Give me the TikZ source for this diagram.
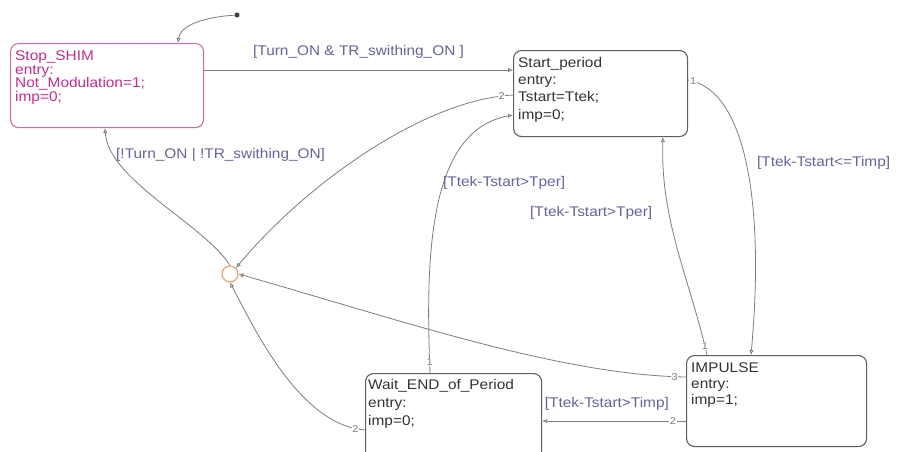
\documentclass[tikz,border=0pt]{standalone}
\usepackage{fontspec}
\setmainfont{Liberation Sans}[FakeStretch=1.1]
\usetikzlibrary{arrows.meta,calc}
\definecolor{ln}{RGB}{125,125,125}
\definecolor{lbl}{RGB}{100,100,160}
\definecolor{mag}{RGB}{195,45,140}
\definecolor{magb}{RGB}{205,110,165}
\definecolor{bx}{RGB}{95,95,95}
\definecolor{jn}{RGB}{235,150,90}
\begin{document}
\begin{tikzpicture}[x=1pt,y=-1pt,
  statebox/.style={draw=bx, line width=1.1pt, rounded corners=8pt, anchor=north west, inner sep=0pt},
  boxtext/.style={anchor=north west, align=left, inner sep=0pt, font=\fontsize{14}{17}\selectfont, text=black!80},
  tr/.style={draw=ln, line width=0.8pt, -{Latex[open,length=5pt,width=4.5pt]}},
  glabel/.style={text=lbl, font=\fontsize{14}{16}\selectfont, inner sep=0pt},
  prio/.style={fill=white, text=ln, font=\fontsize{10}{10}\selectfont, inner sep=0.6pt}]
\useasboundingbox (0,0) rectangle (897,451);
\fill[white] (0,0) rectangle (897,451);

% states
\node[statebox, draw=magb, minimum width=193pt, minimum height=84pt] (ss) at (10,43) {};
\node[boxtext, text=mag, font=\fontsize{14}{13.5}\selectfont] (sst) at (15,51) {Stop\_SHIM\\entry:\\Not\_Modulation=1;\\imp=0;};

\node[statebox, minimum width=174pt, minimum height=86pt] (sp) at (513,50) {};
\node[boxtext, font=\fontsize{14}{17.3}\selectfont] (spt) at (518,57) {Start\_period\\entry:\\Tstart=Ttek;\\imp=0;};

\node[statebox, minimum width=180pt, minimum height=91pt] (im) at (686,355) {};
\node[boxtext, font=\fontsize{14}{16}\selectfont] (imt) at (691,363) {IMPULSE\\entry:\\imp=1;};

\node[statebox, minimum width=176pt, minimum height=100pt] (we) at (365,373) {};
\node[boxtext, font=\fontsize{14}{18}\selectfont] (wet) at (368,379) {Wait\_END\_of\_Period\\entry:\\imp=0;};

\node[circle, draw=jn, line width=1pt, minimum size=16pt, inner sep=0pt] (j) at (230,274) {};
\node[circle, fill=black!75, minimum size=5pt, inner sep=0pt] (dflt) at (237,15) {};

% transitions
\draw[tr] (dflt) .. controls (205,17) and (180,25) .. ([xshift=168pt]ss.north west);

\draw[tr] ([yshift=-27pt]ss.north east) -- node[glabel, midway, above=11pt] {[Turn\_ON \& TR\_swithing\_ON ]} ([yshift=-20pt]sp.north west);

\draw[tr] (j.north) .. controls (205,225) and (108,180) .. ([xshift=95pt]ss.south west);
\node[glabel, anchor=west] (l2) at (116,155) {[!Turn\_ON | !TR\_swithing\_ON]};

\draw[tr] ([yshift=-45pt]sp.north west) .. controls (420,100) and (300,190) .. node[prio, pos=0.04] {2} (j.north east);

\draw[tr] ([xshift=65pt]we.north west) .. controls (425,250) and (430,130) .. node[prio, pos=0.03] {1} ([yshift=-65pt]sp.north west);
\node[glabel, anchor=west] (l4) at (443,183) {[Ttek-Tstart>Tper]};

\draw[tr] ([xshift=21pt]im.north west) .. controls (690,280) and (660,220) .. node[prio, pos=0.04] {1} ([xshift=150pt]sp.south west);
\node[glabel, anchor=west] (l5) at (530,213) {[Ttek-Tstart>Tper]};

\draw[tr] ([yshift=-30pt]sp.north east) .. controls (745,90) and (765,200) .. node[prio, pos=0.03] {1} ([xshift=65pt]im.north west);
\node[glabel, anchor=west] (l6) at (757,163) {[Ttek-Tstart<=Timp]};

\draw[tr] ([yshift=-22pt]im.north west) .. controls (560,375) and (400,320) .. node[prio, pos=0.03] {3} (j.east);

\draw[tr] ([yshift=-66pt]im.north west) -- node[prio, pos=0.09] {2} node[glabel, pos=0.55, above=10pt] {[Ttek-Tstart>Timp]} ([yshift=-48pt]we.north east);

\draw[tr] ([yshift=-57pt]we.north west) .. controls (300,425) and (255,330) .. node[prio, pos=0.05] {2} (j.south);
\end{tikzpicture}
\end{document}
